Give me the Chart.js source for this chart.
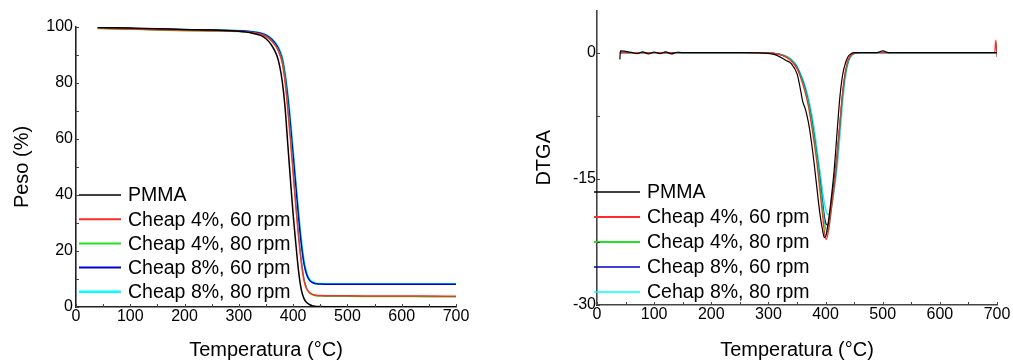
<!DOCTYPE html>
<html><head><meta charset="utf-8">
<script src="https://cdn.jsdelivr.net/npm/chart.js@4"></script>
<style>
body{margin:0;background:#fff;width:1013px;height:362px;overflow:hidden;position:relative}
#c1{position:absolute;left:0;top:0}
#c2{position:absolute;left:505px;top:0}
</style>
</head><body>
<canvas id="c1" width="505" height="362" style="width:505px;height:362px"></canvas>
<canvas id="c2" width="508" height="362" style="width:508px;height:362px"></canvas>
<script>
// ---------- DATA ----------
const tgaNames = ['PMMA', 'Cheap 4%, 60 rpm', 'Cheap 4%, 80 rpm', 'Cheap 8%, 60 rpm', 'Cheap 8%, 80 rpm'];
const dtgaNames = ['PMMA', 'Cheap 4%, 60 rpm', 'Cheap 4%, 80 rpm', 'Cheap 8%, 60 rpm', 'Cehap 8%, 80 rpm'];
const seriesColors = ['#000000', '#ff2a2a', '#22e022', '#0000cc', '#00ffff'];

const tgaTemp = [40, 100, 150, 200, 250, 300, 320, 340, 350, 360, 370, 375, 380, 385, 390, 395, 400, 405, 410, 415, 420, 425, 430, 435, 440, 445, 450, 460, 480, 500, 550, 600, 650, 700];
const tgaPMMA = [99.8, 99.6, 99.4, 99.1, 98.9, 98.5, 98.0, 97.0, 95.8, 93.6, 89.8, 86.2, 80.5, 71.5, 58.5, 45.5, 33, 22.5, 12.8, 6.2, 3, 1.6, 0.9, 0.5, 0.3, 0.2, 0.15, 0.1, 0.05, 0, 0, 0, 0, 0];
const tgaC4_60 = [99.6, 99.3, 99.0, 98.8, 98.7, 98.5, 98.2, 97.5, 96.7, 95.2, 92.6, 90.4, 87.2, 80.8, 71, 60, 48, 36, 25, 16, 9.5, 6.5, 5.2, 4.6, 4.3, 4.15, 4.1, 4.05, 4.0, 4.0, 3.95, 3.9, 3.9, 3.85];
const tgaC4_80 = [99.5, 99.2, 98.9, 98.7, 98.6, 98.4, 98.1, 97.4, 96.6, 95.1, 92.6, 90.6, 87.6, 81.5, 72, 61, 49, 37, 26, 16.8, 10, 6.6, 5.1, 4.4, 4.1, 3.95, 3.9, 3.85, 3.8, 3.8, 3.75, 3.75, 3.7, 3.7];
const tgaC8_60 = [99.8, 99.5, 99.2, 99.0, 98.9, 98.7, 98.4, 97.8, 97.1, 95.7, 93.3, 91.3, 88.4, 82.8, 75, 65, 54, 43, 32, 22.5, 15.5, 11.5, 9.6, 8.8, 8.4, 8.25, 8.2, 8.15, 8.1, 8.1, 8.1, 8.1, 8.1, 8.1];
const tgaC8_80 = [99.7, 99.4, 99.1, 98.9, 98.8, 98.7, 98.4, 97.9, 97.2, 95.9, 93.6, 91.8, 89.0, 83.6, 76, 66.5, 55.5, 44.5, 33.5, 24, 16.5, 12, 9.9, 9, 8.55, 8.35, 8.3, 8.25, 8.2, 8.2, 8.2, 8.2, 8.2, 8.2];

const dtgaTemp = [40, 41, 60, 70, 80, 90, 100, 110, 120, 130, 140, 150, 200, 250, 290, 310, 320, 330, 340, 350, 355, 360, 365, 370, 375, 380, 385, 390, 395, 398, 401, 404, 407, 410, 415, 420, 425, 430, 435, 440, 445, 450, 460, 490, 500, 510, 550, 600, 650, 696, 698, 700];
const dtgaPMMA = [-0.8, 0.2, 0.03, -0.12, 0.1, -0.15, 0.08, -0.12, 0.1, -0.15, 0.05, 0, 0, 0, -0.05, -0.2, -0.5, -0.9, -1.3, -2.5, -4, -5.8, -6.8, -8.3, -10.5, -13.2, -16.2, -19.1, -21.2, -22, -21.7, -20.5, -19, -17.3, -14, -9.6, -5.3, -2.6, -1.2, -0.4, -0.1, 0, 0, 0, 0.2, 0, 0, 0, 0, 0, 0, 0];
const dtgaC4_60 = [0, 0, 0, 0, 0, 0, 0, 0, 0, 0, 0, 0, 0, 0, 0, -0.1, -0.25, -0.5, -1, -1.9, -2.7, -3.7, -4.9, -6.4, -8.4, -10.7, -13.2, -16.3, -19.5, -21.3, -22.2, -21.6, -20.3, -18.6, -16, -12.8, -8.6, -4.7, -2.1, -0.8, -0.3, -0.1, 0, 0, 0, 0, 0, 0, 0, 0, 1.5, -0.5];
const dtgaC4_80 = [0, 0, 0, 0, 0, 0, 0, 0, 0, 0, 0, 0, 0, 0, 0, -0.1, -0.2, -0.45, -0.9, -1.8, -2.6, -3.5, -4.6, -6, -7.9, -10.1, -12.5, -15.4, -18.4, -20.1, -21.1, -21.3, -20.3, -18.7, -15.9, -12.6, -8.7, -4.9, -2.3, -0.9, -0.3, -0.1, 0, 0, 0, 0, 0, 0, 0, 0, 0, 0];
const dtgaC8_60 = [0, 0, 0, 0, 0, 0, 0, 0, 0, 0, 0, 0, 0, 0, 0, -0.1, -0.2, -0.45, -0.9, -1.7, -2.5, -3.4, -4.5, -5.9, -7.7, -9.9, -12.3, -15, -17.9, -19.5, -20.4, -20.5, -19.6, -18, -15.3, -12.2, -8.5, -4.8, -2.3, -0.9, -0.3, -0.1, 0, 0, 0, 0, 0, 0, 0, 0, 0, 0];
const dtgaC8_80 = [0, 0, 0, 0, 0, 0, 0, 0, 0, 0, 0, 0, 0, 0, 0, -0.1, -0.2, -0.4, -0.8, -1.6, -2.3, -3.1, -4.1, -5.4, -7, -9, -11.5, -14, -16.6, -17.9, -18.8, -19.2, -19.2, -18.4, -16.4, -13.8, -10, -5.8, -2.8, -1.1, -0.4, -0.1, 0, 0, 0, 0, 0, 0, 0, 0, 0, 0];

const tgaTicksY = [0, 20, 40, 60, 80, 100];
const dtgaTicksY = [-30, -15, 0];
const xTicks = [0, 100, 200, 300, 400, 500, 600, 700];

// ---------- HELPERS ----------
const FONT = "'Liberation Sans', Arial, sans-serif";
Chart.defaults.font.family = FONT;
Chart.defaults.color = '#000';

function makeSet(temp, vals, i, names, widths) {
  return {
    label: names[i],
    data: temp.map((t, k) => ({x: t, y: vals[k]})),
    borderColor: seriesColors[i],
    borderWidth: widths[i],
    pointRadius: 0,
    fill: false,
    cubicInterpolationMode: 'monotone'
  };
}

const innerTicks = {
  id: 'innerTicks',
  afterDraw(chart, args, opts) {
    const ctx = chart.ctx, xs = chart.scales.x, ys = chart.scales.y;
    ctx.save();
    ctx.strokeStyle = '#444';
    ctx.lineWidth = 1;
    for (let v = xs.min; v <= xs.max; v += opts.xStep) {
      const px = Math.round(xs.getPixelForValue(v)) + 0.5;
      ctx.beginPath(); ctx.moveTo(px, xs.top); ctx.lineTo(px, xs.top - 3); ctx.stroke();
    }
    for (let v = opts.yStart; v <= ys.max + 1e-9; v += opts.yStep) {
      const py = Math.round(ys.getPixelForValue(v)) + 0.5;
      ctx.beginPath(); ctx.moveTo(ys.right, py); ctx.lineTo(ys.right + 3, py); ctx.stroke();
    }
    ctx.restore();
  }
};

const innerLegend = {
  id: 'innerLegend',
  afterDatasetsDraw(chart, args, opts) {
    const ctx = chart.ctx;
    ctx.save();
    ctx.font = opts.fontSize + 'px ' + FONT;
    ctx.textBaseline = 'middle';
    ctx.textAlign = 'left';
    chart.data.datasets.forEach((ds, i) => {
      const y = opts.y0 + i * opts.dy;
      ctx.strokeStyle = ds.borderColor;
      ctx.lineWidth = opts.lw[i];
      ctx.beginPath(); ctx.moveTo(opts.x0, y); ctx.lineTo(opts.x1, y); ctx.stroke();
      ctx.fillStyle = '#000';
      ctx.fillText(ds.label, opts.xt, y + 1);
    });
    ctx.restore();
  }
};

function baseOptions(cfg) {
  return {
    responsive: false,
    animation: false,
    layout: {padding: cfg.padding},
    plugins: {
      legend: {display: false},
      tooltip: {enabled: false},
      innerTicks: cfg.innerTicks,
      innerLegend: cfg.legend
    },
    scales: {
      x: {
        type: 'linear', min: 0, max: 700,
        afterBuildTicks: s => { s.ticks = xTicks.map(v => ({value: v})); },
        afterFit: s => { s.height = cfg.xHeight; },
        ticks: {font: {size: 16}, color: '#000', padding: 0, maxRotation: 0},
        grid: {display: false, drawTicks: false},
        border: {display: true, color: cfg.axisColor, width: 1.6},
        title: {display: true, text: 'Temperatura (°C)', font: {size: 20}, color: '#000', padding: {top: 0, bottom: 0}}
      },
      y: {
        type: 'linear', min: cfg.yMin, max: cfg.yMax,
        afterBuildTicks: s => { s.ticks = cfg.yTicks.map(v => ({value: v})); },
        afterFit: s => { s.width = cfg.yWidth; },
        ticks: {font: {size: 16}, color: '#000', padding: cfg.yPad},
        grid: {display: false, drawTicks: false},
        border: {display: true, color: cfg.axisColor, width: 1.6},
        title: {display: true, text: cfg.yTitle, font: {size: 20}, color: '#000', padding: {top: cfg.yTitlePad, bottom: 0}}
      }
    }
  };
}

const tgaWidths = [1.5, 1.5, 1.5, 1.5, 2];
new Chart(document.getElementById('c1'), {
  type: 'line',
  data: {datasets: [
    makeSet(tgaTemp, tgaPMMA, 0, tgaNames, tgaWidths),
    makeSet(tgaTemp, tgaC4_60, 1, tgaNames, tgaWidths),
    makeSet(tgaTemp, tgaC4_80, 2, tgaNames, tgaWidths),
    makeSet(tgaTemp, tgaC8_60, 3, tgaNames, tgaWidths),
    makeSet(tgaTemp, tgaC8_80, 4, tgaNames, tgaWidths)
  ]},
  options: baseOptions({
    padding: {left: 0, top: 27, right: 49, bottom: 0},
    xHeight: 55, yWidth: 76, yPad: 3, yTitlePad: 10.5, axisColor: '#222',
    yMin: 0, yMax: 100, yTicks: tgaTicksY, yTitle: 'Peso (%)',
    innerTicks: {xStep: 50, yStart: 0, yStep: 10},
    legend: {x0: 79, x1: 121, xt: 128, y0: 195, dy: 24.2, fontSize: 19.5, lw: [1.5, 2, 2, 2, 2.5]}
  }),
  plugins: [innerTicks, innerLegend]
});

const dtgaWidths = [1.2, 1.3, 1.3, 1.3, 1.5];
new Chart(document.getElementById('c2'), {
  type: 'line',
  data: {datasets: [
    makeSet(dtgaTemp, dtgaPMMA, 0, dtgaNames, dtgaWidths),
    makeSet(dtgaTemp, dtgaC4_60, 1, dtgaNames, dtgaWidths),
    makeSet(dtgaTemp, dtgaC4_80, 2, dtgaNames, dtgaWidths),
    makeSet(dtgaTemp, dtgaC8_60, 3, dtgaNames, dtgaWidths),
    makeSet(dtgaTemp, dtgaC8_80, 4, dtgaNames, dtgaWidths)
  ]},
  options: baseOptions({
    padding: {left: 0, top: 10, right: 16, bottom: 0},
    xHeight: 57, yWidth: 92, yPad: 1, yTitlePad: 27, axisColor: '#444',
    yMin: -30, yMax: 5, yTicks: dtgaTicksY, yTitle: 'DTGA',
    innerTicks: {xStep: 50, yStart: -30, yStep: 7.5},
    legend: {x0: 89, x1: 135, xt: 142, y0: 192, dy: 25, fontSize: 19.5, lw: [1.5, 2, 2, 1.5, 1.5]}
  }),
  plugins: [innerTicks, innerLegend]
});
</script>
</body></html>
